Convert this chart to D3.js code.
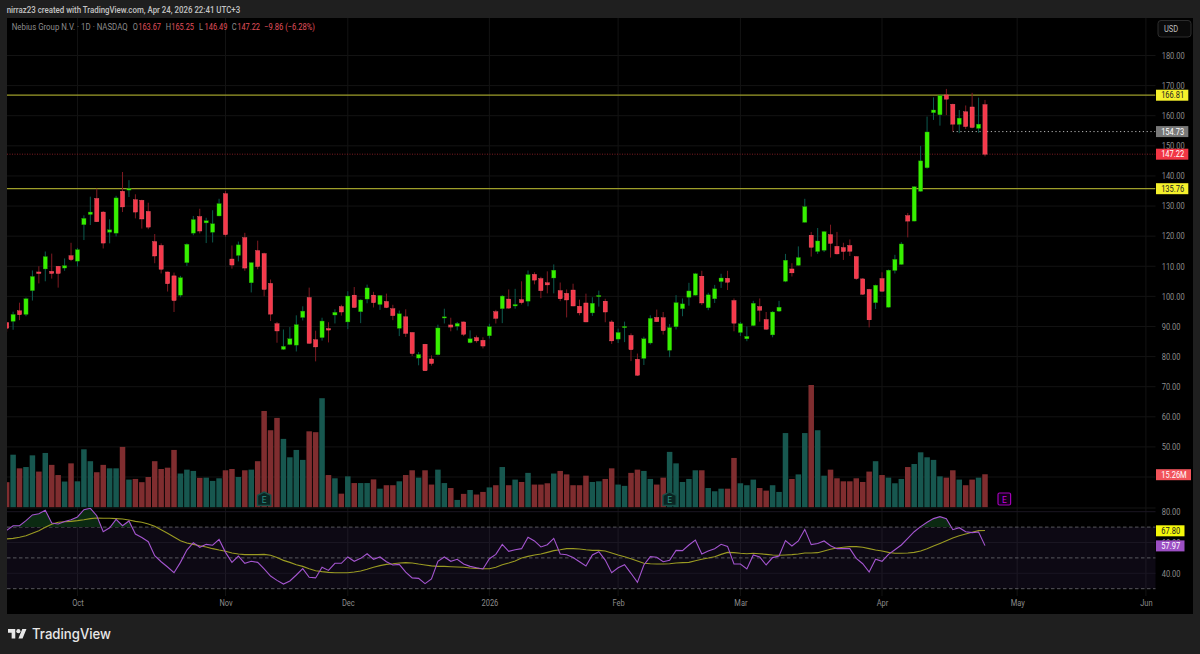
<!DOCTYPE html>
<html><head><meta charset="utf-8">
<script src="https://cdnjs.cloudflare.com/ajax/libs/d3/7.8.5/d3.min.js"></script>
<style>html,body{margin:0;padding:0;background:#1f1f1f;overflow:hidden}svg{display:block;font-family:Roboto,"Liberation Sans",sans-serif}</style>
</head><body><svg id="c" width="1200" height="654"></svg>
<script>
const opens=[91.3,91.7,95.2,94.0,101.9,108.1,109.1,108.3,110.0,109.4,113.5,111.7,123.8,127.2,132.5,128.0,121.3,121.0,134.9,135.3,132.1,131.9,128.2,118.2,116.9,108.1,106.8,100.4,111.2,121.0,126.5,124.4,121.3,126.7,134.1,112.4,113.6,119.5,104.5,115.2,114.2,104.3,90.9,82.4,84.0,83.8,93.0,99.6,85.6,86.3,89.3,93.8,96.6,91.5,100.4,94.9,99.1,100.4,97.3,98.3,95.9,89.4,93.2,88.0,79.5,84.1,79.2,80.6,92.9,90.5,90.1,91.5,84.6,86.3,85.4,86.9,94.9,95.9,99.1,96.8,98.9,98.4,107.3,105.9,104.5,106.1,101.9,101.0,102.1,96.7,97.8,94.5,100.0,98.4,91.5,85.8,89.8,87.0,79.1,79.4,84.5,93.0,92.9,82.1,89.9,95.9,99.7,100.4,106.7,96.2,99.2,104.9,106.0,98.6,88.0,85.9,90.3,96.6,92.3,87.2,95.1,105.0,109.1,110.3,124.6,120.3,114.9,115.3,120.5,116.6,116.2,116.9,113.2,105.8,102.3,97.9,105.9,96.4,108.6,110.6,126.8,125.0,134.9,142.7,161.0,160.3,166.9,163.8,157.1,161.3,162.9,155.8,163.67];
const highs=[91.5,94.9,97.9,99.6,108.6,110.0,114.9,114.2,110.1,112.6,117.8,116.1,126.9,133.1,135.8,128.3,125.6,133.4,141.3,138.6,133.9,132.1,131.1,120.7,117.6,108.2,107.9,106.8,117.6,126.7,129.1,126.1,128.6,132.4,135.0,116.9,118.2,121.1,111.2,118.5,114.5,105.6,91.5,89.0,89.8,93.7,96.7,102.9,88.6,92.9,91.4,95.7,97.2,101.7,103.1,99.0,103.9,101.5,100.4,100.9,97.2,95.3,95.7,88.0,81.5,84.2,80.4,90.6,95.9,92.9,91.5,91.6,88.7,87.0,86.4,90.9,95.5,100.4,102.3,102.5,105.0,108.6,108.0,106.5,108.3,110.6,104.6,102.3,104.2,98.9,100.9,99.7,101.9,99.2,92.1,89.3,91.6,87.7,81.0,86.6,93.7,95.6,94.8,90.8,100.4,99.3,104.5,107.8,108.5,101.2,103.8,107.5,108.5,99.3,91.5,90.0,98.5,99.3,94.8,95.1,98.5,114.1,111.0,116.6,132.4,121.4,122.7,121.7,123.8,121.4,117.8,118.9,113.3,106.0,102.5,103.9,108.0,108.9,113.8,118.0,127.7,136.6,150.0,159.7,166.1,166.9,168.9,164.0,161.9,163.4,167.6,166.0,165.25];
const lows=[88.2,88.9,92.1,93.4,98.6,104.3,105.0,105.9,102.9,108.5,111.7,109.9,118.7,123.7,124.7,115.9,117.6,119.9,128.0,133.0,125.9,122.5,122.3,111.0,107.6,101.6,94.8,99.7,110.1,120.3,120.9,117.7,117.9,126.6,119.8,109.2,111.6,108.5,101.3,109.0,100.0,91.8,84.6,82.2,83.8,81.7,92.0,84.3,78.4,85.3,84.7,91.0,93.6,89.1,96.2,91.1,97.7,96.3,95.5,96.1,92.1,86.8,86.5,80.2,77.1,75.2,77.0,80.4,91.0,88.4,88.7,86.8,84.4,84.6,82.7,86.0,91.0,91.1,95.9,95.9,97.3,96.7,104.0,99.4,101.0,101.0,98.4,93.0,96.7,93.7,91.4,93.5,96.6,91.4,84.2,84.5,84.8,78.5,73.6,77.2,84.0,91.5,87.3,79.8,89.0,93.4,96.9,100.3,97.1,95.4,97.8,102.8,102.1,88.4,86.8,85.1,90.1,91.6,88.9,86.4,94.8,104.7,106.6,110.2,124.5,113.2,114.1,114.7,112.9,113.9,112.1,113.4,105.5,100.5,89.7,95.8,101.6,96.3,107.6,110.5,119.6,124.9,134.8,142.4,158.6,156.7,160.2,154.8,154.2,155.6,155.8,154.3,146.49];
const closes=[89.4,94.0,93.9,99.2,106.6,107.6,113.2,107.6,107.6,110.2,112.2,115.5,125.9,128.0,124.8,117.7,122.1,132.7,129.7,135.8,128.0,125.7,123.0,113.4,109.0,104.2,98.6,106.2,117.3,125.5,121.7,125.1,124.1,130.8,120.5,110.4,117.1,109.4,111.2,109.9,102.3,94.1,88.5,83.4,85.9,90.6,95.1,84.4,83.2,91.8,88.8,94.7,94.8,100.1,96.3,98.8,102.8,97.9,100.3,96.3,93.6,94.2,87.7,81.0,80.7,75.3,77.7,89.5,93.2,89.8,91.0,87.4,85.9,85.2,83.5,89.9,92.7,100.1,96.1,97.3,97.9,107.2,105.4,101.9,103.8,108.7,99.2,98.8,96.8,94.5,91.5,97.7,100.3,94.8,85.2,88.0,90.0,82.3,73.8,85.9,92.7,91.6,88.6,89.6,97.9,97.5,101.8,107.5,97.8,100.5,102.5,106.1,104.7,91.1,90.9,86.7,97.7,95.4,89.1,94.8,96.4,112.0,107.8,112.9,129.8,116.3,118.4,121.5,117.6,114.1,114.9,115.0,105.9,100.7,92.2,103.7,101.7,108.7,112.3,117.4,125.0,136.4,145.0,154.6,161.9,166.7,165.5,157.2,159.2,156.4,156.1,157.2,147.22];
const volumes=[11.6,24.3,18.0,18.6,24.0,16.5,25.1,19.6,14.9,11.9,20.3,12.0,26.8,21.3,16.2,19.6,18.0,18.0,27.9,12.8,13.1,11.6,14.0,21.3,17.7,18.3,26.5,15.6,17.4,16.8,13.6,13.7,12.2,13.4,17.1,17.7,14.0,17.1,17.4,21.3,44.5,35.6,41.3,31.6,23.1,26.5,21.9,35.1,34.7,50.4,14.9,13.4,6.3,14.3,11.2,11.2,11.2,12.9,8.6,10.2,10.2,12.0,14.9,17.1,13.7,17.1,10.5,17.4,11.2,8.9,3.4,6.2,8.0,5.9,7.1,9.2,10.2,18.6,10.2,12.8,11.7,15.9,10.5,10.5,11.1,15.6,16.8,15.2,10.2,10.2,14.6,11.7,12.0,13.1,18.0,10.5,9.9,15.9,17.4,16.8,13.1,10.5,13.7,25.6,20.3,11.7,13.1,17.1,17.1,8.9,7.4,8.6,8.6,22.8,11.1,10.2,12.8,8.9,7.7,10.2,7.1,34.3,13.1,15.2,34.3,56.5,35.6,14.6,17.4,13.4,12.0,12.0,13.4,11.7,16.5,21.3,14.9,13.7,11.1,13.1,18.6,20.0,25.4,23.1,21.9,14.3,13.7,17.1,12.8,10.2,12.8,13.7,15.26];
const rsi=[67.9,70.9,70.9,74.2,77.9,78.7,80.9,72.7,72.0,73.7,74.8,76.6,81.3,82.2,77.4,67.0,69.6,75.0,70.9,74.0,65.5,63.2,60.5,51.4,47.5,44.1,40.4,47.1,55.1,59.9,56.9,58.8,58.2,62.0,53.6,47.1,51.2,46.5,47.8,47.1,42.8,38.2,35.4,33.0,35.0,38.9,43.0,37.4,37.0,43.9,41.9,46.5,46.5,50.6,47.8,49.7,52.7,49.1,50.6,47.5,45.4,45.8,40.8,37.0,36.7,33.3,36.3,47.8,50.6,47.8,49.1,46.0,44.5,43.6,42.8,49.5,52.3,58.8,54.3,55.3,56.0,63.4,61.0,57.1,58.6,62.7,52.5,52.1,50.2,47.5,44.8,51.9,54.0,48.6,40.4,43.6,45.6,40.0,34.1,45.4,50.8,50.4,47.5,48.4,54.9,54.7,58.4,61.6,52.5,54.5,56.0,58.8,57.5,46.0,46.0,42.8,51.9,50.6,45.4,50.2,51.2,61.2,57.7,61.0,68.5,58.6,59.4,61.0,57.9,56.0,56.0,56.0,49.7,46.2,40.8,49.1,47.8,52.3,55.3,58.4,62.7,67.0,70.3,73.1,75.5,76.8,75.5,68.3,69.6,67.0,66.4,66.8,57.97];
const rsiMA=[62.3,62.7,63.4,64.4,66.0,67.7,69.9,71.8,73.1,73.5,73.7,74.2,74.8,75.5,75.9,75.7,75.7,75.5,75.3,74.6,73.7,73.1,72.0,70.5,68.3,66.0,63.6,61.2,59.7,58.8,57.9,57.1,56.0,55.1,54.3,53.2,52.5,52.1,52.1,52.1,52.3,51.7,50.2,48.4,47.1,45.6,44.5,43.0,41.7,41.1,40.6,40.4,40.4,40.4,40.8,41.5,42.6,43.9,45.0,45.8,46.2,46.7,46.9,46.7,46.0,45.4,44.8,44.5,44.5,44.3,44.1,43.9,43.4,43.2,43.0,43.0,43.9,45.6,46.7,48.0,49.9,51.0,51.9,52.5,53.6,54.7,55.3,56.0,56.0,55.8,55.3,54.9,54.9,54.5,53.2,51.9,50.8,49.5,48.0,46.5,46.2,46.0,46.0,46.2,46.7,46.9,47.1,48.2,49.1,49.9,50.8,52.3,53.6,53.4,53.0,52.7,53.0,52.7,52.3,51.9,51.7,51.9,52.1,52.5,53.2,53.2,53.4,54.5,55.6,56.4,56.9,57.3,57.3,56.9,56.0,55.1,54.5,53.6,53.0,53.0,53.2,53.6,54.5,56.0,57.7,59.4,61.2,62.9,64.4,65.5,66.6,67.7,67.80];

const priceTicks=[180,170,160,150,140,130,120,110,100,90,80,70,60,50,40];
const rsiTicks=[80,60,40];
const rsiDashed=[70,50,30];
const timeTickIdx=[11,34,53,75,95,114,136,157,177];
const timeTickLabels=["Oct","Nov","Dec","2026","Feb","Mar","Apr","May","Jun"];
const earningsIdx=[40,103];
const futureEarningsIdx=[155];
const levels=[166.81,135.76];
const prevClose=154.73, last=147.22, lastVol="15.26M";
const header="nirraz23 created with TradingView.com, Apr 24, 2026 22:41 UTC+3";
const title="Nebius Group N.V. · 1D · NASDAQ";
const ohlcLetters=["O","H","L","C"];
const ohlcValues=["163.67","165.25","146.49","147.22"];
const changeText="−9.86 (−6.28%)";

const svg=d3.select("#c");
const L=7,R=1155.5,T=18,B=614,paneB=596;
const FS=8.7, SQ=0.86;
const x=d3.scaleLinear().domain([0,152]).range([6.67,985]);
const y=d3.scaleLinear().domain([180,40]).range([55.5,477]);
const yV=d3.scaleLinear().domain([0,56.5]).range([507.3,385]);
const yR=d3.scaleLinear().domain([80,40]).range([511.7,573.3]);
// horizontally condense a text selection to match the narrow chart lettering
const squeeze=(sel,f=SQ)=>sel.each(function(){
  const n=this.getComputedTextLength();
  d3.select(this).attr("textLength",n*f).attr("lengthAdjust","spacingAndGlyphs");
});
const fitTo=(sel,w)=>sel.attr("textLength",w).attr("lengthAdjust","spacingAndGlyphs");

const defs=svg.append("defs");
defs.append("clipPath").attr("id","main").append("rect").attr("x",L).attr("y",T).attr("width",R-L).attr("height",507.5-T);
defs.append("clipPath").attr("id","rsi").append("rect").attr("x",L).attr("y",508).attr("width",R-L).attr("height",88);
defs.append("clipPath").attr("id","above70").append("rect").attr("x",L).attr("y",508).attr("width",R-L).attr("height",yR(70)-508);

svg.append("rect").attr("width",1200).attr("height",654).attr("fill","#1f1f1f");
svg.append("rect").attr("x",L).attr("y",T).attr("width",1193-L).attr("height",B-T).attr("fill","#000");
svg.append("text").attr("x",6.7).attr("y",13).attr("fill","#c4c4c4").attr("font-size",9.2).attr("font-weight",500).text(header).call(fitTo,233.5);

// grid
const grid=svg.append("g").attr("stroke","#131313").attr("stroke-width",1);
grid.selectAll("line.h").data(priceTicks).join("line").attr("class","h").attr("x1",L).attr("x2",R).attr("y1",d=>y(d)).attr("y2",d=>y(d));
grid.selectAll("line.v").data(timeTickIdx).join("line").attr("class","v").attr("x1",d=>x(d)).attr("x2",d=>x(d)).attr("y1",T).attr("y2",paneB);
svg.append("line").attr("x1",L).attr("x2",R).attr("y1",508).attr("y2",508).attr("stroke","#141414");

// rsi band
svg.append("rect").attr("x",L).attr("width",R-L).attr("y",yR(70)).attr("height",yR(30)-yR(70)).attr("fill","#7e57c2").attr("fill-opacity",0.1);
svg.append("g").attr("stroke","#1a1622").selectAll("line").data(rsiTicks).join("line").attr("x1",L).attr("x2",R).attr("y1",d=>yR(d)).attr("y2",d=>yR(d));
svg.append("g").selectAll("line").data(rsiDashed).join("line").attr("x1",L).attr("x2",R).attr("y1",d=>yR(d)).attr("y2",d=>yR(d)).attr("stroke","#616166").attr("stroke-dasharray","3.5 2.5").attr("stroke-width",0.9);

const main=svg.append("g").attr("clip-path","url(#main)");
// volume
main.append("g").selectAll("rect").data(volumes).join("rect")
 .attr("x",(d,i)=>x(i)-2.75).attr("width",5.5).attr("y",d=>yV(d)).attr("height",d=>yV(0)-yV(d))
 .attr("fill",(d,i)=>closes[i]>=opens[i]?"#17574f":"#7f2d2f");

// levels
main.append("g").selectAll("line").data(levels).join("line").attr("x1",L).attr("x2",R).attr("y1",d=>y(d)).attr("y2",d=>y(d)).attr("stroke","#9e9e2a").attr("stroke-width",1.2);
main.append("line").attr("x1",L).attr("x2",R).attr("y1",y(last)).attr("y2",y(last)).attr("stroke","#7c1a20").attr("stroke-dasharray","1 1.5");
main.append("line").attr("x1",x(147)).attr("x2",R).attr("y1",y(prevClose)).attr("y2",y(prevClose)).attr("stroke","#b4b4b4").attr("stroke-dasharray","1.2 2.6");

// candles
const candle=main.append("g").selectAll("g").data(closes).join("g");
candle.append("line").attr("x1",(d,i)=>x(i)).attr("x2",(d,i)=>x(i)).attr("y1",(d,i)=>y(highs[i])).attr("y2",(d,i)=>y(lows[i]))
 .attr("stroke",(d,i)=>d>=opens[i]?"#0c5a4e":"#7e1a22").attr("stroke-width",1);
candle.append("rect").attr("x",(d,i)=>x(i)-2.1).attr("width",4.2)
 .attr("y",(d,i)=>y(Math.max(d,opens[i]))).attr("height",(d,i)=>Math.max(1.2,Math.abs(y(d)-y(opens[i]))))
 .attr("fill",(d,i)=>d>=opens[i]?"#37f000":"#f5394b")
 .attr("stroke",(d,i)=>d>=opens[i]?"#1f8f00":"#ff6a78").attr("stroke-width",0.35);

// earnings markers
const eg=svg.append("g").selectAll("g").data(earningsIdx).join("g").attr("transform",d=>`translate(${x(d)},0)`);
eg.append("path").attr("d","M-6.6,495.3 L0,492 L6.6,495.3 L6.6,505.5 L-6.6,505.5 Z").attr("fill","#0a2422").attr("stroke","#175049").attr("stroke-width",1.4);
eg.append("text").attr("y",502.8).attr("text-anchor","middle").attr("fill","#2a9184").attr("font-size",8.5).text("E");
const fe=svg.append("g").selectAll("g").data(futureEarningsIdx).join("g").attr("transform",d=>`translate(${x(d)},0)`);
fe.append("rect").attr("x",-6.3).attr("y",493).attr("width",12.6).attr("height",12).attr("rx",1.5).attr("fill","#12001a").attr("stroke","#a300b8").attr("stroke-width",1.2);
fe.append("text").attr("y",502.6).attr("text-anchor","middle").attr("fill","#c400dc").attr("font-size",8.5).text("E");

// rsi
const rp=svg.append("g").attr("clip-path","url(#rsi)");
const line=d3.line().x((d,i)=>x(i)).y(d=>yR(d));
const area=d3.area().x((d,i)=>x(i)).y0(yR(70)).y1(d=>yR(d));
rp.append("g").attr("clip-path","url(#above70)").append("path").attr("d",area(rsi)).attr("fill","#0b2a12");
rp.append("path").attr("d",line(rsiMA)).attr("fill","none").attr("stroke","#9a9a22").attr("stroke-width",1.1);
rp.append("path").attr("d",line(rsi)).attr("fill","none").attr("stroke","#a455cf").attr("stroke-width",1.1);

// axes
const axisStyle=g=>{g.select(".domain").remove();g.selectAll(".tick line").remove();g.selectAll("text").attr("fill","#8c8c8c").attr("font-size",FS).attr("font-family","Roboto,sans-serif").call(squeeze);};
svg.append("g").attr("transform","translate(1161.7,0)").call(d3.axisRight(y).tickValues(priceTicks).tickFormat(d3.format(".2f")).tickSize(0).tickPadding(0)).call(axisStyle);
svg.append("g").attr("transform","translate(1161.7,0)").call(d3.axisRight(yR).tickValues(rsiTicks).tickFormat(d3.format(".2f")).tickSize(0).tickPadding(0)).call(axisStyle);
svg.append("g").attr("transform","translate(0,600)").call(d3.axisBottom(x).tickValues(timeTickIdx).tickFormat((d,i)=>timeTickLabels[i]).tickSize(0).tickPadding(0)).call(axisStyle);

// price tags
const tags=[
 {pos:y(levels[0]),fill:"#f5f02c",txt:"#222",w:32.3,t:levels[0].toFixed(2)},
 {pos:y(prevClose),fill:"#787878",txt:"#fff",w:32.3,t:prevClose.toFixed(2)},
 {pos:y(last),fill:"#f23645",txt:"#fff",w:32.3,t:last.toFixed(2)},
 {pos:y(levels[1]),fill:"#f5f02c",txt:"#222",w:32.3,t:levels[1].toFixed(2)},
 {pos:474.7,fill:"#f2545b",txt:"#fff",w:35,t:lastVol},
 {pos:530.8,fill:"#f4f70a",txt:"#222",w:28.5,t:rsiMA[152].toFixed(2)},
 {pos:545.9,fill:"#9c4fc4",txt:"#fff",w:28.5,t:rsi[152].toFixed(2)}
];
const tg=svg.append("g").selectAll("g").data(tags).join("g").attr("transform",d=>`translate(1156,${d.pos})`);
tg.append("rect").attr("y",-5.5).attr("height",11).attr("width",d=>d.w).attr("fill",d=>d.fill);
tg.append("text").attr("x",d=>d.w/2+0.5).attr("y",3.2).attr("text-anchor","middle").attr("font-size",FS).attr("fill",d=>d.txt).text(d=>d.t).call(squeeze);

// USD
svg.append("rect").attr("x",1158).attr("y",20.5).attr("width",33).attr("height",16.5).attr("rx",3).attr("fill","#0a0a0a").attr("stroke","#2c2c2c");
svg.append("text").attr("x",1171).attr("y",32.2).attr("font-size",FS).attr("fill","#bdbdbd").attr("text-anchor","middle").text("USD").call(squeeze);

// legend
svg.append("text").attr("x",11.7).attr("y",30.2).attr("font-size",FS).attr("fill","#8c8c8c").text(title).call(fitTo,116);
const lx=[132.7,165.7,199,231.7];
ohlcLetters.forEach((l,i)=>{
 svg.append("text").attr("x",lx[i]).attr("y",30.2).attr("font-size",FS).attr("fill","#8c8c8c").text(l).call(squeeze);
 svg.append("text").attr("x",lx[i]+5.6).attr("y",30.2).attr("font-size",FS).attr("fill","#e0505c").text(ohlcValues[i]).call(fitTo,22.7);
});
svg.append("text").attr("x",264.3).attr("y",30.2).attr("font-size",FS).attr("fill","#e0505c").text(changeText).call(fitTo,50.7);

// logo
const logo=svg.append("g").attr("transform","translate(8,627) scale(0.52)").attr("fill","#e8e8e8");
logo.append("path").attr("d","M14 22H7V11H0V4h14v18zM28 22h-8l7.5-18h8L28 22z");
logo.append("circle").attr("cx",20).attr("cy",8).attr("r",4);
svg.append("text").attr("x",32).attr("y",639).attr("font-size",14).attr("font-weight",500).attr("font-family","Inter,Roboto,sans-serif").attr("fill","#e8e8e8").text("TradingView").call(fitTo,79);
</script></body></html>
